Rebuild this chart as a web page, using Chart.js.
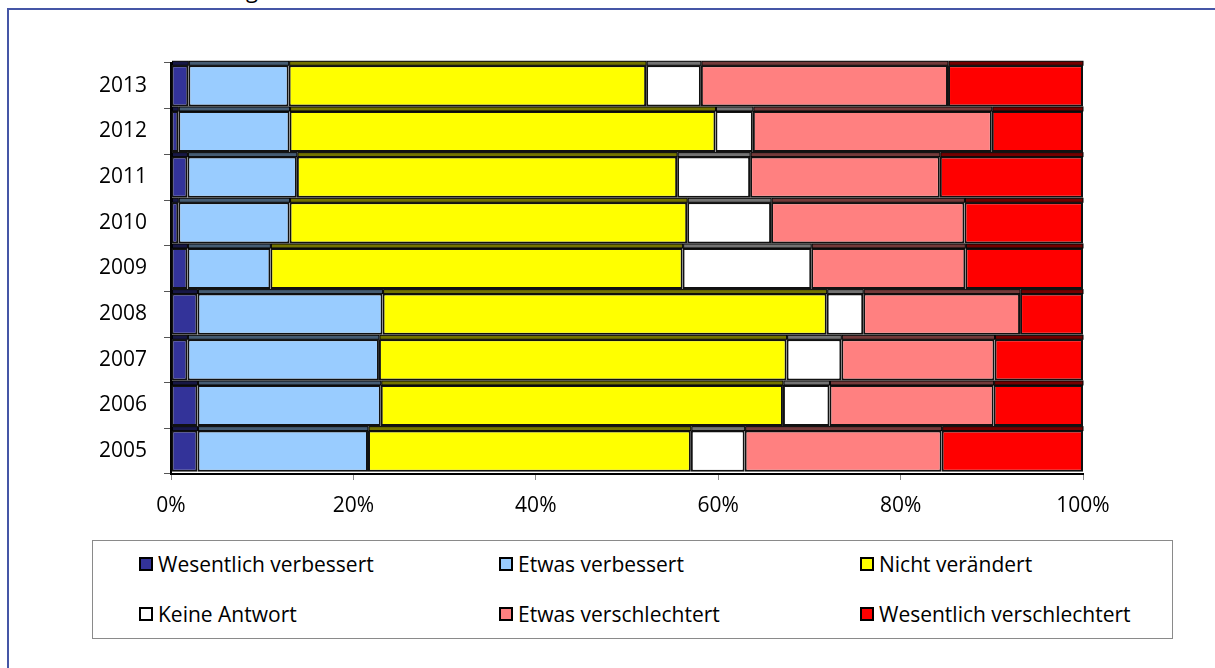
<!DOCTYPE html>
<html>
<head>
<meta charset="utf-8">
<script src="https://cdn.jsdelivr.net/npm/chart.js@4/dist/chart.umd.min.js"></script>
<style>
  body { margin: 0; background: #fff; font-family: "Open Sans", sans-serif; }
  #wrap { position: relative; width: 1215px; height: 668px; overflow: hidden; }
  #frame { position: absolute; left: 7px; top: 8px; right: -10px; bottom: -10px;
           border-top: 2px solid #4556a6; border-left: 2px solid #4556a6; }
  #cut { position: absolute; left: 246px; top: -22px; font-size: 22px; line-height: 22px; }
  #legend { position: absolute; left: 92px; top: 540px; width: 1079px; height: 97px;
            border: 1px solid #8a8a8a; background: #fff; }
  .item { position: absolute; display: flex; align-items: center; font-size: 21px; color: #000; white-space: nowrap; }
  .box { width: 10px; height: 10px; border: 2px solid #000; margin-right: 5px; }
  canvas { position: absolute; left: 0; top: 0; }
</style>
</head>
<body>
<div id="wrap">
  <div id="frame"></div>
  <div id="cut">g</div>
  <div id="legend"></div>
  <canvas id="chart" width="1215" height="668"></canvas>
</div>
<script>
// Daten (von oben nach unten)
let years = ['2013','2012','2011','2010','2009','2008','2007','2006','2005'];
let wesentlichVerbessert = [1.9, 0.8, 1.8, 0.8, 1.8, 2.9, 1.8, 2.9, 2.9];
let etwasVerbessert = [11.0, 12.2, 12.0, 12.2, 9.1, 20.3, 21.0, 20.1, 18.7];
let nichtVeraendert = [39.2, 46.7, 41.7, 43.6, 45.2, 48.7, 44.7, 44.1, 35.4];
let keineAntwort = [6.0, 4.1, 8.0, 9.2, 14.1, 4.0, 6.0, 5.1, 5.9];
let etwasVerschlechtert = [27.1, 26.2, 20.8, 21.2, 16.9, 17.2, 16.8, 18.0, 21.6];
let wesentlichVerschlechtert = [14.8, 10.0, 15.7, 13.0, 12.9, 6.9, 9.7, 9.8, 15.5];
let xTicks = [0, 20, 40, 60, 80, 100];

let seriesNames = ['Wesentlich verbessert','Etwas verbessert','Nicht verändert','Keine Antwort','Etwas verschlechtert','Wesentlich verschlechtert'];
let seriesData = [wesentlichVerbessert, etwasVerbessert, nichtVeraendert, keineAntwort, etwasVerschlechtert, wesentlichVerschlechtert];
let colors = ['#333399','#99ccff','#ffff00','#ffffff','#ff8080','#ff0000'];

function darker(hex, f) {
    let n = parseInt(hex.slice(1), 16);
    let r = Math.round(((n >> 16) & 255) * f), g = Math.round(((n >> 8) & 255) * f), b = Math.round((n & 255) * f);
    return 'rgb(' + r + ',' + g + ',' + b + ')';
}

// obere "3D"-Kante der Balken
let topFace = {
    id: 'topFace',
    afterDatasetsDraw(chart) {
        let ctx = chart.ctx;
        chart.data.datasets.forEach((ds, i) => {
            let meta = chart.getDatasetMeta(i);
            meta.data.forEach(el => {
                let p = el.getProps(['x','y','base','height'], true);
                let left = Math.min(p.base, p.x), w = Math.abs(p.x - p.base);
                let top = p.y - p.height / 2;
                ctx.save();
                ctx.fillStyle = darker(ds.backgroundColor, 0.45);
                ctx.fillRect(left + 1, top - 4, w - 1, 4);
                ctx.strokeStyle = '#000';
                ctx.lineWidth = 1;
                ctx.strokeRect(left + 1, top - 4, w - 1, 4);
                ctx.restore();
            });
        });
    }
};

let ctx = document.getElementById('chart').getContext('2d');
let chart = new Chart(ctx, {
    type: 'bar',
    data: {
        labels: years,
        datasets: seriesNames.map((name, i) => ({
            label: name,
            data: seriesData[i],
            backgroundColor: colors[i],
            borderColor: '#111',
            borderWidth: 2,
            borderSkipped: false,
            barPercentage: 0.9,
            categoryPercentage: 1.0
        }))
    },
    options: {
        indexAxis: 'y',
        responsive: false,
        animation: false,
        layout: { padding: { top: 63, right: 132, left: 0, bottom: 0 } },
        plugins: { legend: { display: false }, tooltip: { enabled: false } },
        scales: {
            x: {
                stacked: true, min: 0, max: 100,
                afterBuildTicks: s => { s.ticks = xTicks.map(v => ({ value: v })); },
                afterFit: s => { s.height = 194; },
                grid: { drawOnChartArea: false, tickLength: 6, color: '#888' },
                border: { color: '#000', width: 2 },
                ticks: { callback: v => v + '%', color: '#000', padding: 13,
                         font: { family: 'Open Sans', size: 21 } }
            },
            y: {
                stacked: true,
                afterFit: s => { s.width = 171; },
                grid: { drawOnChartArea: false, tickLength: 7, color: '#555', offset: true },
                border: { color: '#000', width: 2 },
                ticks: { color: '#000', padding: 17, font: { family: 'Open Sans', size: 21 } }
            }
        }
    },
    plugins: [topFace]
});

// Legende im Kasten
let legend = document.getElementById('legend');
let colX = [46, 406, 767];
let rowY = [24, 74];
chart.data.datasets.forEach((ds, i) => {
    let item = document.createElement('div');
    item.className = 'item';
    item.style.left = colX[i % 3] + 'px';
    item.style.top = (rowY[Math.floor(i / 3)] - 15) + 'px';
    let box = document.createElement('span');
    box.className = 'box';
    box.style.background = ds.backgroundColor;
    let txt = document.createElement('span');
    txt.textContent = ds.label;
    item.appendChild(box);
    item.appendChild(txt);
    legend.appendChild(item);
});
</script>
</body>
</html>
